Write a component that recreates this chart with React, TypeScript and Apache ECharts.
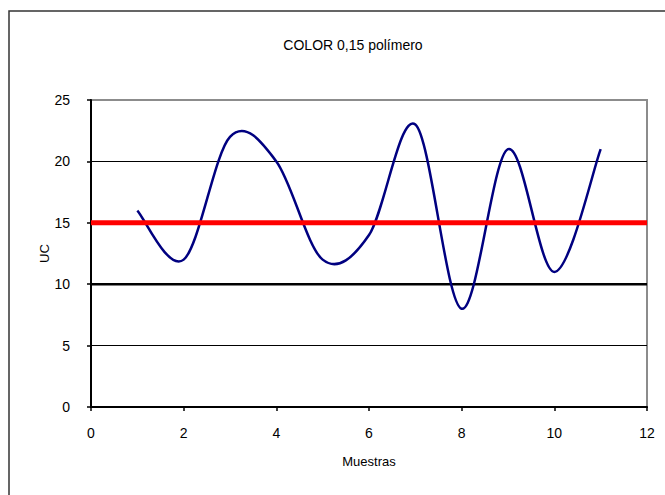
import React, { useEffect, useRef } from "react";
import * as echarts from "echarts";

const titleText = "COLOR 0,15 polímero";
const xAxisName = "Muestras";
const yAxisName = "UC";

const sampleX = [1, 2, 3, 4, 5, 6, 7, 8, 9, 10, 11];
const ucValues = [16, 12, 22, 20, 12, 14, 23, 8, 21, 11, 21];

const xRange = [0, 12];
const yRange = [0, 25];
const upperLimit = 15;
const lowerLimit = 10;

const FONT = "Liberation Sans, Arial, sans-serif";
const NARROW = "Liberation Sans Narrow, Arial Narrow, Liberation Sans, sans-serif";

export default function App() {
  const ref = useRef<HTMLDivElement>(null);

  useEffect(() => {
    if (!ref.current) return;
    const chart = echarts.init(ref.current, null, { renderer: "svg" });
    const seriesData = sampleX.map((x, i) => [x, ucValues[i]]);

    const renderCurve = (params: any, api: any) => {
      if (params.dataIndex !== 0) return null;
      const pts = sampleX.map((x, i) => api.coord([x, ucValues[i]]));
      let d = `M${pts[0][0]},${pts[0][1]}`;
      for (let i = 0; i < pts.length - 1; i++) {
        const p0 = pts[i - 1] || pts[i];
        const p1 = pts[i];
        const p2 = pts[i + 1];
        const p3 = pts[i + 2] || pts[i + 1];
        const c1x = p1[0] + (p2[0] - p0[0]) / 6;
        const c1y = p1[1] + (p2[1] - p0[1]) / 6;
        const c2x = p2[0] - (p3[0] - p1[0]) / 6;
        const c2y = p2[1] - (p3[1] - p1[1]) / 6;
        d += ` C${c1x},${c1y} ${c2x},${c2y} ${p2[0]},${p2[1]}`;
      }
      return {
        type: "path",
        shape: { pathData: d },
        style: { fill: "none", stroke: "#000080", lineWidth: 2.5, lineJoin: "round" },
      };
    };

    chart.setOption({
      animation: false,
      backgroundColor: "#ffffff",
      grid: {
        left: 91,
        top: 100,
        right: 18,
        bottom: 88,
        show: true,
        borderColor: "#8c8c8c",
        borderWidth: 2,
        backgroundColor: "transparent",
      },
      graphic: [
        {
          type: "rect",
          shape: { x: 9, y: 11, width: 700, height: 600 },
          style: { fill: "none", stroke: "#333333", lineWidth: 1.5 },
          silent: true,
          z: 100,
        },
        {
          type: "text",
          x: 353,
          y: 45,
          style: {
            text: titleText,
            fill: "#000",
            font: `14px ${FONT}`,
            textAlign: "center",
            textVerticalAlign: "middle",
          },
        },
      ],
      xAxis: {
        type: "value",
        min: xRange[0],
        max: xRange[1],
        interval: 2,
        name: xAxisName,
        nameLocation: "middle",
        nameGap: 48,
        nameMoveOverlap: false,
        nameTextStyle: { fontFamily: FONT, fontSize: 13, color: "#000" },
        axisLine: { show: true, onZero: false, lineStyle: { color: "#000", width: 2 } },
        axisTick: { show: true, inside: false, length: 4, lineStyle: { color: "#000", width: 1.5 } },
        axisLabel: { fontFamily: NARROW, fontSize: 14, color: "#000", margin: 19 },
        splitLine: { show: false },
      },
      yAxis: {
        type: "value",
        min: yRange[0],
        max: yRange[1],
        interval: 5,
        name: yAxisName,
        nameLocation: "middle",
        nameRotate: 90,
        nameGap: 40,
        nameMoveOverlap: false,
        nameTextStyle: { fontFamily: FONT, fontSize: 13, color: "#000" },
        axisLine: { show: true, onZero: false, lineStyle: { color: "#000", width: 2 } },
        axisTick: { show: true, inside: false, length: 4, lineStyle: { color: "#000", width: 1.5 } },
        axisLabel: { fontFamily: NARROW, fontSize: 14, color: "#000", margin: 21 },
        splitLine: {
          show: true,
          showMinLine: false,
          showMaxLine: false,
          lineStyle: { color: "#000", width: 1 },
        },
      },
      series: [
        {
          name: "lower",
          type: "line",
          data: [[xRange[0], lowerLimit], [xRange[1], lowerLimit]],
          symbol: "none",
          lineStyle: { color: "#000", width: 2.5 },
          z: 2,
        },
        {
          name: "UC",
          type: "custom",
          coordinateSystem: "cartesian2d",
          data: seriesData,
          encode: { x: 0, y: 1 },
          renderItem: renderCurve,
          z: 3,
        },
        {
          name: "upper",
          type: "line",
          data: [[xRange[0], upperLimit], [xRange[1], upperLimit]],
          symbol: "none",
          lineStyle: { color: "#ff0000", width: 5 },
          z: 4,
        },
      ],
    });
    return () => chart.dispose();
  }, []);

  return (
    <div
      ref={ref}
      style={{ position: "fixed", left: 0, top: 0, width: 665, height: 495 }}
    />
  );
}
